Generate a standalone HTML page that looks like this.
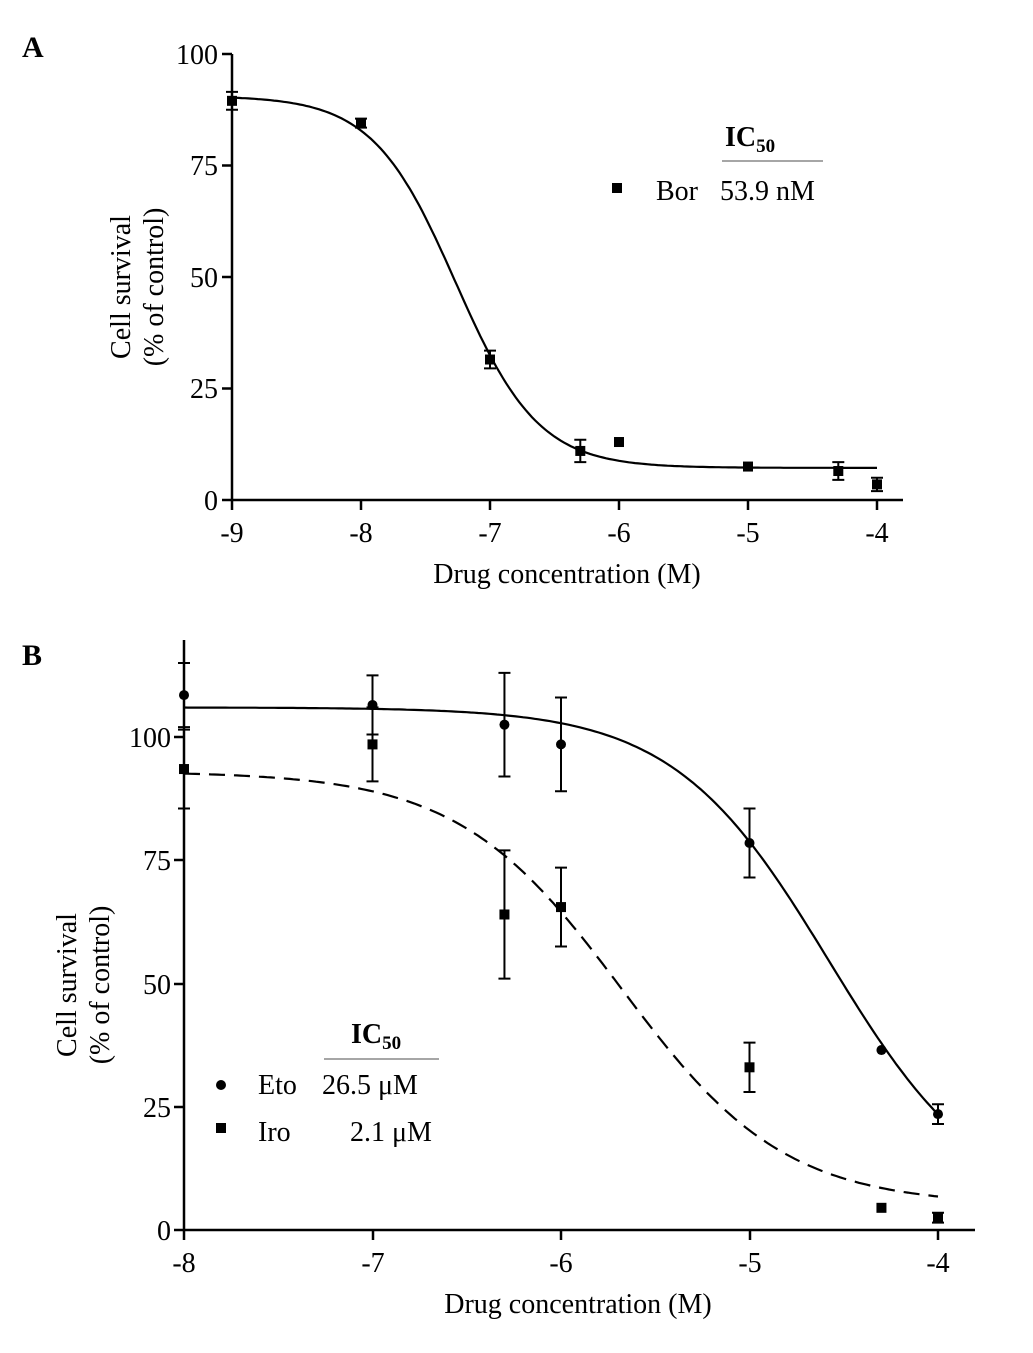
<!DOCTYPE html>
<html><head><meta charset="utf-8"><style>
body{margin:0;background:#fff}
svg text{font-family:"Liberation Serif",serif;fill:#000}
</style></head><body>
<svg id="s" width="1033" height="1348" xmlns="http://www.w3.org/2000/svg">
<text x="22" y="57" font-size="30" font-weight="bold">A</text>
<text x="22" y="665" font-size="30" font-weight="bold">B</text>
<g stroke="#000" stroke-width="2.5" fill="none">
<path d="M232 54V500H903"/>
<path d="M184 640V1230H975"/>
<path d="M222 54H232M222 165.5H232M222 277H232M222 388.5H232M222 500H232"/>
<path d="M232 500V510M361 500V510M490 500V510M619 500V510M748 500V510M877 500V510"/>
<path d="M174 737H184M174 860H184M174 984H184M174 1107H184M174 1230H184"/>
<path d="M184 1230V1240M373 1230V1240M561 1230V1240M750 1230V1240M938 1230V1240"/>
</g>
<g font-size="28" text-anchor="end">
<text x="218" y="64">100</text><text x="218" y="175">75</text><text x="218" y="287">50</text><text x="218" y="398">25</text><text x="218" y="510">0</text>
<text x="171" y="747">100</text><text x="171" y="870">75</text><text x="171" y="994">50</text><text x="171" y="1117">25</text><text x="171" y="1240">0</text>
</g>
<g font-size="28" text-anchor="middle">
<text x="232" y="542">-9</text><text x="361" y="542">-8</text><text x="490" y="542">-7</text><text x="619" y="542">-6</text><text x="748" y="542">-5</text><text x="877" y="542">-4</text>
<text x="567" y="583">Drug concentration (M)</text>
<text x="184" y="1272">-8</text><text x="373" y="1272">-7</text><text x="561" y="1272">-6</text><text x="750" y="1272">-5</text><text x="938" y="1272">-4</text>
<text x="578" y="1313">Drug concentration (M)</text>
<text transform="translate(130,287) rotate(-90)">Cell survival</text>
<text transform="translate(163,287) rotate(-90)">(% of control)</text>
<text transform="translate(76,985) rotate(-90)">Cell survival</text>
<text transform="translate(109,985) rotate(-90)">(% of control)</text>
</g>
<text x="725" y="146" font-size="28" font-weight="bold">IC<tspan font-size="19" dy="6">50</tspan></text>
<line x1="722" y1="161" x2="823" y2="161" stroke="#888" stroke-width="1.5"/>
<rect x="612" y="183" width="10" height="10"/>
<text x="656" y="200" font-size="28">Bor</text><text x="720" y="200" font-size="28">53.9 nM</text>
<text x="351" y="1043" font-size="28" font-weight="bold">IC<tspan font-size="19" dy="6">50</tspan></text>
<line x1="324" y1="1059" x2="439" y2="1059" stroke="#888" stroke-width="1.5"/>
<circle cx="221" cy="1085" r="5"/><rect x="216" y="1123" width="10" height="10"/>
<text x="258" y="1094" font-size="28">Eto</text><text x="322" y="1094" font-size="28">26.5 μM</text>
<text x="258" y="1141" font-size="28">Iro</text><text x="350" y="1141" font-size="28">2.1 μM</text>
<g id="g" stroke="#000" stroke-width="2.2" fill="none"></g>
<g id="m"></g>
</svg>
<script>
var NS="http://www.w3.org/2000/svg",g=document.getElementById('g'),m=document.getElementById('m');
function el(p,t,a){var e=document.createElementNS(NS,t);for(var k in a)e.setAttribute(k,a[k]);p.appendChild(e);}
function A(x,y){return [232+(x+9)*129,500-y*4.46];}
function B(x,y){return [184+(x+8)*188.5,1230-y*4.93];}
function curve(T,x0,x1,top,bot,lic,h,dash){var d='';for(var i=0;i<=200;i++){var x=x0+(x1-x0)*i/200,y=bot+(top-bot)/(1+Math.pow(10,(x-lic)*h));var p=T(x,y);d+=(i?'L':'M')+p[0].toFixed(1)+' '+p[1].toFixed(1);}
var a={d:d};if(dash)a['stroke-dasharray']='16 9';el(g,'path',a);}
curve(A,-9,-4,90.6,7.2,-7.268,1.35);
curve(B,-8,-4,106,3,-4.577,1.05);
curve(B,-8,-4,93,5,-5.68,1.0,true);
function pts(T,arr,sh){arr.forEach(function(q){var p=T(q[0],q[1]);if(q[2]){var t=T(q[0],q[1]+q[2])[1],b=T(q[0],q[1]-q[2])[1];el(m,'path',{d:'M'+p[0]+' '+t+'V'+b+'M'+(p[0]-6)+' '+t+'h12M'+(p[0]-6)+' '+b+'h12',stroke:'#000','stroke-width':2,fill:'none'});}
if(sh=='c')el(m,'circle',{cx:p[0],cy:p[1],r:5});else el(m,'rect',{x:p[0]-5,y:p[1]-5,width:10,height:10});});}
pts(A,[[-9,89.5,2],[-8,84.5,1],[-7,31.5,2],[-6.3,11,2.5],[-6,13,0],[-5,7.5,0],[-4.3,6.5,2],[-4,3.5,1.5]],'s');
pts(B,[[-8,108.5,6.5],[-7,106.5,6],[-6.3,102.5,10.5],[-6,98.5,9.5],[-5,78.5,7],[-4.3,36.5,0],[-4,23.5,2]],'c');
pts(B,[[-8,93.5,8],[-7,98.5,7.5],[-6.3,64,13],[-6,65.5,8],[-5,33,5],[-4.3,4.5,0],[-4,2.5,1]],'s');
</script>
</body></html>
